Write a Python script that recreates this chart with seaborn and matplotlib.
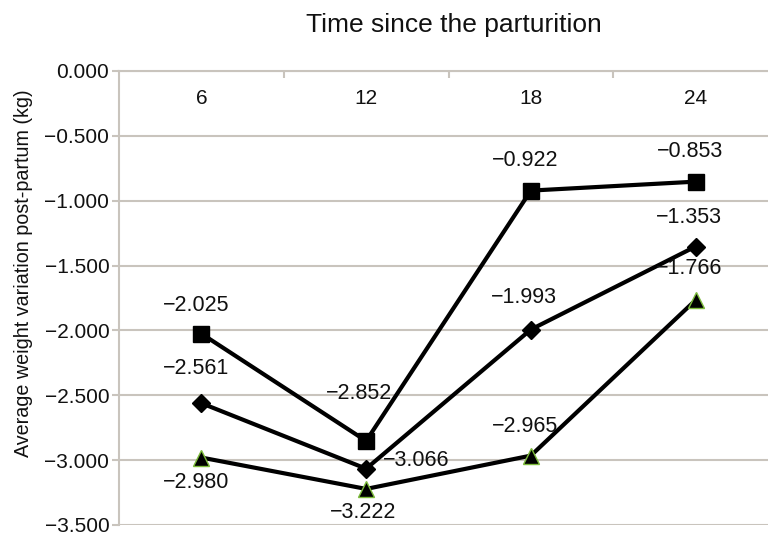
import matplotlib
matplotlib.use("Agg")
import matplotlib.pyplot as plt
from matplotlib.ticker import FuncFormatter, FixedLocator
import seaborn as sns
import pandas as pd

# data
times = ["6", "12", "18", "24"]
square_vals = [-2.025, -2.852, -0.922, -0.853]
diamond_vals = [-2.561, -3.066, -1.993, -1.353]
triangle_vals = [-2.980, -3.222, -2.965, -1.766]

title = "Time since the parturition"
ylabel = "Average weight variation post-partum (kg)"

sns.set_theme(style="white")
plt.rcParams["font.family"] = ["Liberation Sans", "DejaVu Sans"]

fig = plt.figure(figsize=(7.68, 5.36), dpi=100)
ax = fig.add_axes([119 / 768, 11 / 536, 659 / 768, 454 / 536])

grid_col = "#c9c4bd"
txt = "#111111"

# series: values, marker, size, edge colour, label offsets (points)
series = [
    (square_vals, "s", 12, "black", [(-4, 20), (-5, 34), (-4, 22), (-4, 22)]),
    (diamond_vals, "D", 9, "black", [(-4, 25), (36, 6), (-5, 23), (-5, 21)]),
    (triangle_vals, "^", 12, "#7dbb3c", [(-4, -18), (-2, -17), (-4, 21), (-5, 23)]),
]

for vals, mk, ms, ec, offs in series:
    df = pd.DataFrame({"time": times, "value": vals})
    sns.lineplot(data=df, x="time", y="value", color="black", linewidth=3,
                 marker=mk, markersize=ms, markeredgecolor=ec,
                 markeredgewidth=1, ax=ax, sort=False)
    for i, v in enumerate(vals):
        ax.annotate(f"{v:.3f}".replace("-", "\u2212"), (i, v), xytext=offs[i],
                    textcoords="offset points", ha="center", va="center",
                    fontsize=15.5, color=txt)

ax.set_xlim(-0.5, 3.5)
ax.set_ylim(-3.5, 0)
ax.set_yticks([-3.5, -3.0, -2.5, -2.0, -1.5, -1.0, -0.5, 0.0])
ax.yaxis.set_major_formatter(FuncFormatter(lambda v, p: f"{v:.3f}".replace("-", "\u2212")))
ax.grid(axis="y", color=grid_col, linewidth=1.5)
ax.grid(axis="x", visible=False)

ax.xaxis.tick_top()
ax.xaxis.set_minor_locator(FixedLocator([0.5, 1.5, 2.5]))
ax.tick_params(axis="x", which="major", length=0, pad=-27, labelsize=15, labelcolor=txt)
ax.tick_params(axis="x", which="minor", top=True, length=5, width=1.5, color=grid_col, direction="in")
ax.tick_params(axis="y", left=True, length=5, width=1.5, color=grid_col, labelsize=15,
               labelcolor=txt, pad=2)

for s in ["right", "bottom"]:
    ax.spines[s].set_visible(False)
ax.spines["left"].set_color(grid_col)
ax.spines["left"].set_linewidth(1.5)
ax.spines["top"].set_color(grid_col)
ax.spines["top"].set_linewidth(1.5)

ax.set_xlabel("")
ax.set_ylabel(ylabel, fontsize=14.2, color=txt, labelpad=8, y=0.554)
ax.set_title(title, x=0.508, y=1.0, pad=28, fontsize=19, color=txt)

fig.savefig("out.png", dpi=100)
